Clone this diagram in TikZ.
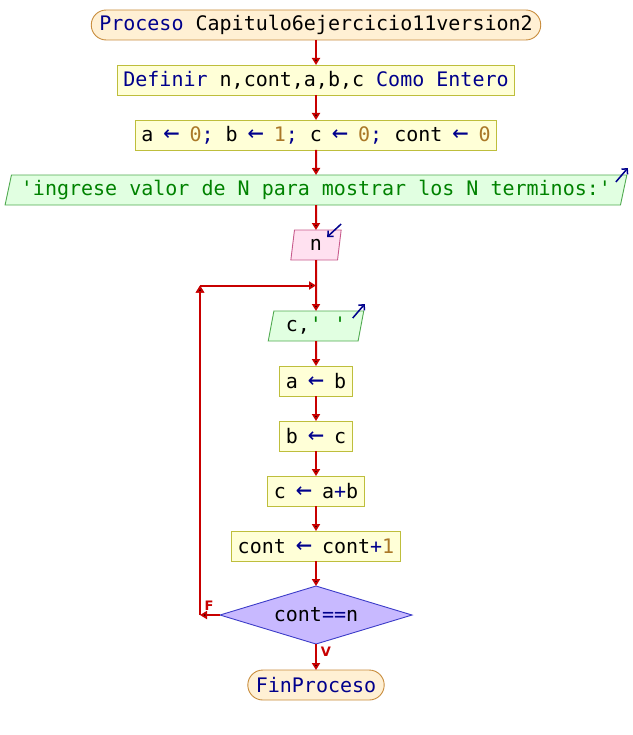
\documentclass[tikz,border=0pt]{standalone}
\usepackage{fontspec}
\setmonofont{DejaVu Sans Mono}
\newfontfamily\lblfont{DejaVu Sans}
\usetikzlibrary{shapes,shapes.geometric,arrows.meta,calc,positioning}
\definecolor{kw}{RGB}{0,0,140}
\definecolor{num}{RGB}{170,120,40}
\definecolor{str}{RGB}{0,130,0}
\definecolor{rojo}{RGB}{200,0,0}
\definecolor{procfondo}{RGB}{255,240,212}
\definecolor{procborde}{RGB}{200,140,60}
\definecolor{asigfondo}{RGB}{255,255,215}
\definecolor{asigborde}{RGB}{190,190,60}
\definecolor{salfondo}{RGB}{225,255,225}
\definecolor{salborde}{RGB}{80,170,80}
\definecolor{entfondo}{RGB}{255,225,240}
\definecolor{entborde}{RGB}{200,90,140}
\definecolor{condfondo}{RGB}{200,185,255}
\definecolor{condborde}{RGB}{60,60,200}
\newcommand{\flechaasig}{\makebox[0.602em]{\textcolor{kw}{\scalebox{1.35}{←}}}}
\tikzset{caja/.style={draw, rectangle, line width=0.9pt, font=\ttfamily\fontsize{20}{24}\selectfont, minimum height=30pt, inner xsep=6pt, inner ysep=0pt, outer sep=0pt}}
\tikzset{flujo/.style={draw=rojo, line width=2pt}}
\tikzset{io/.style={draw=kw, line width=1.5pt, -{Straight Barb[length=4pt,width=8pt]}}}
\tikzstyle{proc}=[caja, rounded corners=15pt, draw=procborde, fill=procfondo, inner xsep=8pt]
\tikzstyle{asig}=[caja, draw=asigborde, fill=asigfondo]
\tikzstyle{sal}=[caja, trapezium, trapezium left angle=72, trapezium right angle=108, trapezium stretches=true, draw=salborde, fill=salfondo, inner xsep=9.5pt]
\tikzstyle{ent}=[sal, draw=entborde, fill=entfondo]
\tikzstyle{cond}=[caja, diamond, aspect=3.3, inner sep=0pt, minimum width=192pt, minimum height=58pt, draw=condborde, fill=condfondo]
\tikzstyle{etiq}=[text=rojo, font=\lblfont\bfseries\fontsize{13}{13}\selectfont, inner sep=0pt]

\begin{document}
\begin{tikzpicture}[x=1pt, y=1pt, >={Triangle[length=7pt,width=8pt]}, node distance=25pt]
\useasboundingbox (0,0) rectangle (632,-735);
\node[proc] (proceso) at (316,-25) {\textcolor{kw}{Proceso} Capitulo6ejercicio11version2};
\node[asig, below=of proceso] (definir) {\textcolor{kw}{Definir} n,cont,a,b,c \textcolor{kw}{Como Entero}};
\node[asig, below=of definir] (inicial) {a \flechaasig{} \textcolor{num}{0}\textcolor{kw}{;} b \flechaasig{} \textcolor{num}{1}\textcolor{kw}{;} c \flechaasig{} \textcolor{num}{0}\textcolor{kw}{;} cont \flechaasig{} \textcolor{num}{0}};
\node[sal, below=of inicial] (mensaje) {\textcolor{str}{'ingrese valor de N para mostrar los N terminos:'}};
\node[ent, below=of mensaje, inner xsep=15.5pt] (leern) {n};
\node[sal, below=51pt of leern, inner xsep=12pt] (mostrar) {c,\textcolor{str}{' '}};
\node[asig, below=of mostrar] (asiga) {a \flechaasig{} b};
\node[asig, below=of asiga] (asigb) {b \flechaasig{} c};
\node[asig, below=of asigb] (asigc) {c \flechaasig{} a\textcolor{kw}{+}b};
\node[asig, below=of asigc] (incr) {cont \flechaasig{} cont\textcolor{kw}{+}\textcolor{num}{1}};
\node[cond, below=of incr] (fincond) {cont\textcolor{kw}{==}n};
\node[proc, below=26pt of fincond] (fin) {\textcolor{kw}{FinProceso}};

% vuelta del ciclo
\coordinate (union) at ($(leern.south)!0.5!(mostrar.north)$);
\coordinate (esq) at ([xshift=-116pt]union);
\coordinate (esqb) at (esq |- fincond.west);

\path[flujo, ->] (proceso) edge (definir)
	(definir) edge (inicial)
	(inicial) edge (mensaje)
	(mensaje) edge (leern)
	(leern) edge (mostrar)
	(mostrar) edge (asiga)
	(asiga) edge (asigb)
	(asigb) edge (asigc)
	(asigc) edge (incr)
	(incr) edge (fincond)
	(fincond) edge (fin)
	(fincond.west) edge (esqb)
	(esqb) edge (esq)
	(esq) edge (union);

\node[etiq] at ([shift={(9pt,9pt)}]esqb) {F};
\node[etiq] at ([shift={(10pt,-8pt)}]fincond.south) {V};

% flechas de entrada/salida
\draw[io] ([shift={(-11pt,-7pt)}]mensaje.top right corner) -- ([shift={(1pt,7pt)}]mensaje.top right corner);
\draw[io] ([shift={(0pt,6pt)}]leern.top right corner) -- ([shift={(-14pt,-7pt)}]leern.top right corner);
\draw[io] ([shift={(-11pt,-7pt)}]mostrar.top right corner) -- ([shift={(1pt,7pt)}]mostrar.top right corner);
\end{tikzpicture}
\end{document}
